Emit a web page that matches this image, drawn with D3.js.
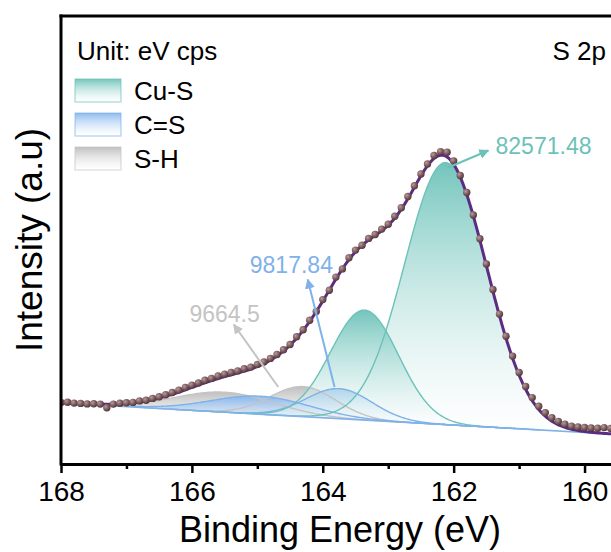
<!DOCTYPE html>
<meta charset="utf-8">
<style>

body {
  margin: 0;
  background: #fff;
}

svg {
  display: block;
  font-family: Arial, "Liberation Sans", sans-serif;
}

.axis path,
.axis line {
  stroke: #000;
}

</style>
<body>
  <div class="canvas"></div>
</body>
<script src="https://cdnjs.cloudflare.com/ajax/libs/d3/7.8.5/d3.min.js"></script>
<script>

// S 2p scan, binding energy from 168 eV down in 0.1 eV steps
var scanStart = 168,
    scanStep = 0.1;

var counts = [
  6150, 6180, 6090, 6060, 6010, 6020, 5990, 5620, 5990, 6080,
  6120, 6160, 6310, 6380, 6560, 6720, 6930, 7150, 7390, 7650,
  7890, 8110, 8370, 8560, 8800, 8990, 9150, 9310, 9520, 9690,
  9960, 10200, 10560, 10950, 11420, 11950, 12720, 13420, 14380, 15260,
  16440, 17380, 18690, 19510, 20620, 21390, 21880, 22560, 22950, 23490,
  23980, 24780, 25620, 26750, 27820, 29010, 30010, 30860, 31240, 31180,
  30300, 28860, 27150, 24900, 22520, 20010, 17450, 14990, 12780, 10790,
  9150, 7760, 6640, 5770, 5120, 4630, 4260, 3980, 3790, 3700,
  3650, 3600, 3580, 3640, 3560
];

// linear background (end points)
var bgEnergy = [168, 159.55],
    bgCounts = [6100, 2990];

// fitted components
var peakGroup  = [0, 0, 1, 1, 2, 2];
var peakCenter = [162.12, 163.36, 163.75, 164.95, 164.30, 165.50];
var peakHeight = [26200, 11000, 3000, 1800, 3000, 2000];
var peakFwhm   = [1.48, 1.22, 1.18, 1.77, 1.18, 1.77];

var groupNames = ["Cu-S", "C=S", "S-H"];
var groupArea  = ["82571.48", "9817.84", "9664.5"];
var groupColor = ["#6cc2b9", "#86b7ee", "#bcbcbc"];
var groupLine  = ["#6cc2b9", "#7fb1ea", "#c4c4c4"];

var majorTicks = [168, 166, 164, 162, 160],
    minorTicks = [167, 165, 163, 161];

// area labels: arrow start, arrow tip, text anchor  (eV, cps)
var notes = [
  {from: [162.10, 29600], to: [161.47, 31350], text: [161.36, 31000], anchor: "start"},
  {from: [163.82, 7700],  to: [164.23, 18450], text: [164.48, 19100], anchor: "middle"},
  {from: [164.68, 7700],  to: [165.36, 13950], text: [165.50, 14200], anchor: "middle"}
];

var w = 611,
    h = 552;

var x = d3.scaleLinear().domain([168, 159.55]).range([61, 614]);
var y = d3.scaleLinear().domain([0, 44800]).range([464, 16]);
var bg = d3.scaleLinear().domain(bgEnergy).range(bgCounts);

function peak(i, e) {
  var d = e - peakCenter[i];
  return peakHeight[i] * Math.exp(-4 * Math.LN2 * d * d / (peakFwhm[i] * peakFwhm[i]));
}

var grid = d3.range(168, 159.5, -0.02);
var energies = counts.map(function(c, i) { return scanStart - i * scanStep; });

var svg = d3.select(".canvas").append("svg")
    .attr("width", w)
    .attr("height", h);

var defs = svg.append("defs");

defs.append("clipPath").attr("id", "plot")
  .append("rect")
    .attr("x", 61).attr("y", 16)
    .attr("width", 560).attr("height", 448);

groupColor.forEach(function(c, g) {
  var grad = defs.append("linearGradient")
      .attr("id", "fill" + g)
      .attr("x1", 0).attr("y1", 0).attr("x2", 0).attr("y2", 1);
  grad.append("stop").attr("offset", 0).attr("stop-color", c).attr("stop-opacity", 0.95);
  grad.append("stop").attr("offset", 1).attr("stop-color", "#ffffff").attr("stop-opacity", 0.35);
});

var dotGrad = defs.append("radialGradient")
    .attr("id", "dot")
    .attr("cx", 0.35).attr("cy", 0.35).attr("r", 0.7);
dotGrad.append("stop").attr("offset", 0).attr("stop-color", "#b89c9c");
dotGrad.append("stop").attr("offset", 0.6).attr("stop-color", "#77565a");
dotGrad.append("stop").attr("offset", 1).attr("stop-color", "#4e3436");

groupLine.forEach(function(c, g) {
  defs.append("marker")
      .attr("id", "arrow" + g)
      .attr("viewBox", "0 0 10 10")
      .attr("refX", 9).attr("refY", 5)
      .attr("markerWidth", 5).attr("markerHeight", 5)
      .attr("markerUnits", "strokeWidth")
      .attr("orient", "auto")
    .append("path")
      .attr("d", "M0,0L10,5L0,10Z")
      .attr("fill", c);
});

var plot = svg.append("g").attr("clip-path", "url(#plot)");

// components, grey first, teal on top
var order = [4, 5, 2, 3, 0, 1];

function span(i) {
  return grid.filter(function(e) { return Math.abs(e - peakCenter[i]) < peakFwhm[i] * 2.2; });
}

var area = d3.area()
    .x(function(d) { return x(d.e); })
    .y0(function(d) { return y(bg(d.e)); })
    .y1(function(d) { return y(bg(d.e) + d.v); });

var edgeLine = d3.line()
    .x(function(d) { return x(d.e); })
    .y(function(d) { return y(bg(d.e) + d.v); });

var comps = order.map(function(i) {
  return {i: i, pts: span(i).map(function(e) { return {e: e, v: peak(i, e)}; })};
});

plot.selectAll("path.fill")
    .data(comps)
  .enter().append("path")
    .attr("class", "fill")
    .attr("d", function(d) { return area(d.pts); })
    .attr("fill", function(d) { return "url(#fill" + peakGroup[d.i] + ")"; });

plot.selectAll("path.edge")
    .data(comps)
  .enter().append("path")
    .attr("class", "edge")
    .attr("d", function(d) { return edgeLine(d.pts); })
    .attr("fill", "none")
    .attr("stroke", function(d) { return groupLine[peakGroup[d.i]]; })
    .attr("stroke-width", 1.4);

// background
plot.append("path")
    .attr("d", d3.line()([[x(bgEnergy[0]), y(bgCounts[0])], [x(bgEnergy[1]), y(bgCounts[1])]]))
    .attr("stroke", "#7fb1ea")
    .attr("stroke-width", 1.6);

// envelope
var envelope = grid.map(function(e) {
  var s = bg(e);
  peakCenter.forEach(function(c, i) { s += peak(i, e); });
  return [x(e), y(s)];
});

plot.append("path")
    .attr("d", d3.line()(envelope))
    .attr("fill", "none")
    .attr("stroke", "#5b2c83")
    .attr("stroke-width", 3);

plot.selectAll("circle")
    .data(counts)
  .enter().append("circle")
    .attr("cx", function(d, i) { return x(energies[i]); })
    .attr("cy", function(d) { return y(d); })
    .attr("r", 3.7)
    .attr("fill", "url(#dot)");

// area labels
notes.forEach(function(n, g) {
  svg.append("line")
      .attr("x1", x(n.from[0])).attr("y1", y(n.from[1]))
      .attr("x2", x(n.to[0])).attr("y2", y(n.to[1]))
      .attr("stroke", groupLine[g])
      .attr("stroke-width", 2)
      .attr("marker-end", "url(#arrow" + g + ")");
  svg.append("text")
      .attr("x", x(n.text[0]))
      .attr("y", y(n.text[1]))
      .attr("text-anchor", n.anchor)
      .attr("fill", groupLine[g])
      .style("font-size", "23px")
      .text(groupArea[g]);
});

// axes
svg.append("g")
    .attr("class", "axis")
    .attr("transform", "translate(0,464)")
    .call(d3.axisBottom(x).tickValues(minorTicks).tickSize(5).tickSizeOuter(0).tickFormat(""))
    .call(function(g) {
      g.select(".domain").remove();
      g.selectAll("line").attr("stroke-width", 2.5);
    });

svg.append("g")
    .attr("class", "axis")
    .attr("transform", "translate(0,464)")
    .call(d3.axisBottom(x).tickValues(majorTicks).tickSize(9).tickSizeOuter(0).tickPadding(8).tickFormat(d3.format("d")))
    .call(function(g) {
      g.select(".domain").attr("stroke-width", 3);
      g.selectAll("line").attr("stroke-width", 2.5);
      g.selectAll("text").style("font-size", "28px").attr("fill", "#000")
        .style("font-family", "Arial, 'Liberation Sans', sans-serif");
    });

svg.append("line")
    .attr("x1", 61).attr("x2", 61).attr("y1", 14.5).attr("y2", 465.5)
    .attr("stroke", "#000").attr("stroke-width", 3);

svg.append("line")
    .attr("x1", 59.5).attr("x2", 614).attr("y1", 16).attr("y2", 16)
    .attr("stroke", "#000").attr("stroke-width", 3);

svg.append("text")
    .attr("x", 340)
    .attr("y", 542)
    .attr("text-anchor", "middle")
    .style("font-size", "36px")
    .text("Binding Energy (eV)");

svg.append("text")
    .attr("transform", "translate(42,240)rotate(-90)")
    .attr("text-anchor", "middle")
    .style("font-size", "37px")
    .text("Intensity (a.u)");

// legend
svg.append("text")
    .attr("x", 77).attr("y", 60)
    .style("font-size", "26px")
    .text("Unit: eV cps");

svg.append("text")
    .attr("x", 606).attr("y", 60)
    .attr("text-anchor", "end")
    .style("font-size", "26px")
    .text("S 2p");

var legend = svg.selectAll("g.legend")
    .data(groupNames)
  .enter().append("g")
    .attr("class", "legend")
    .attr("transform", function(d, i) { return "translate(75," + (79 + i * 34) + ")"; });

legend.append("rect")
    .attr("width", 46)
    .attr("height", 23)
    .attr("fill", function(d, i) { return "url(#fill" + i + ")"; })
    .attr("stroke", function(d, i) { return groupLine[i]; })
    .attr("stroke-opacity", 0.6)
    .attr("stroke-width", 1.2);

legend.append("text")
    .attr("x", 59)
    .attr("y", 21)
    .style("font-size", "26px")
    .text(function(d) { return d; });

</script>
